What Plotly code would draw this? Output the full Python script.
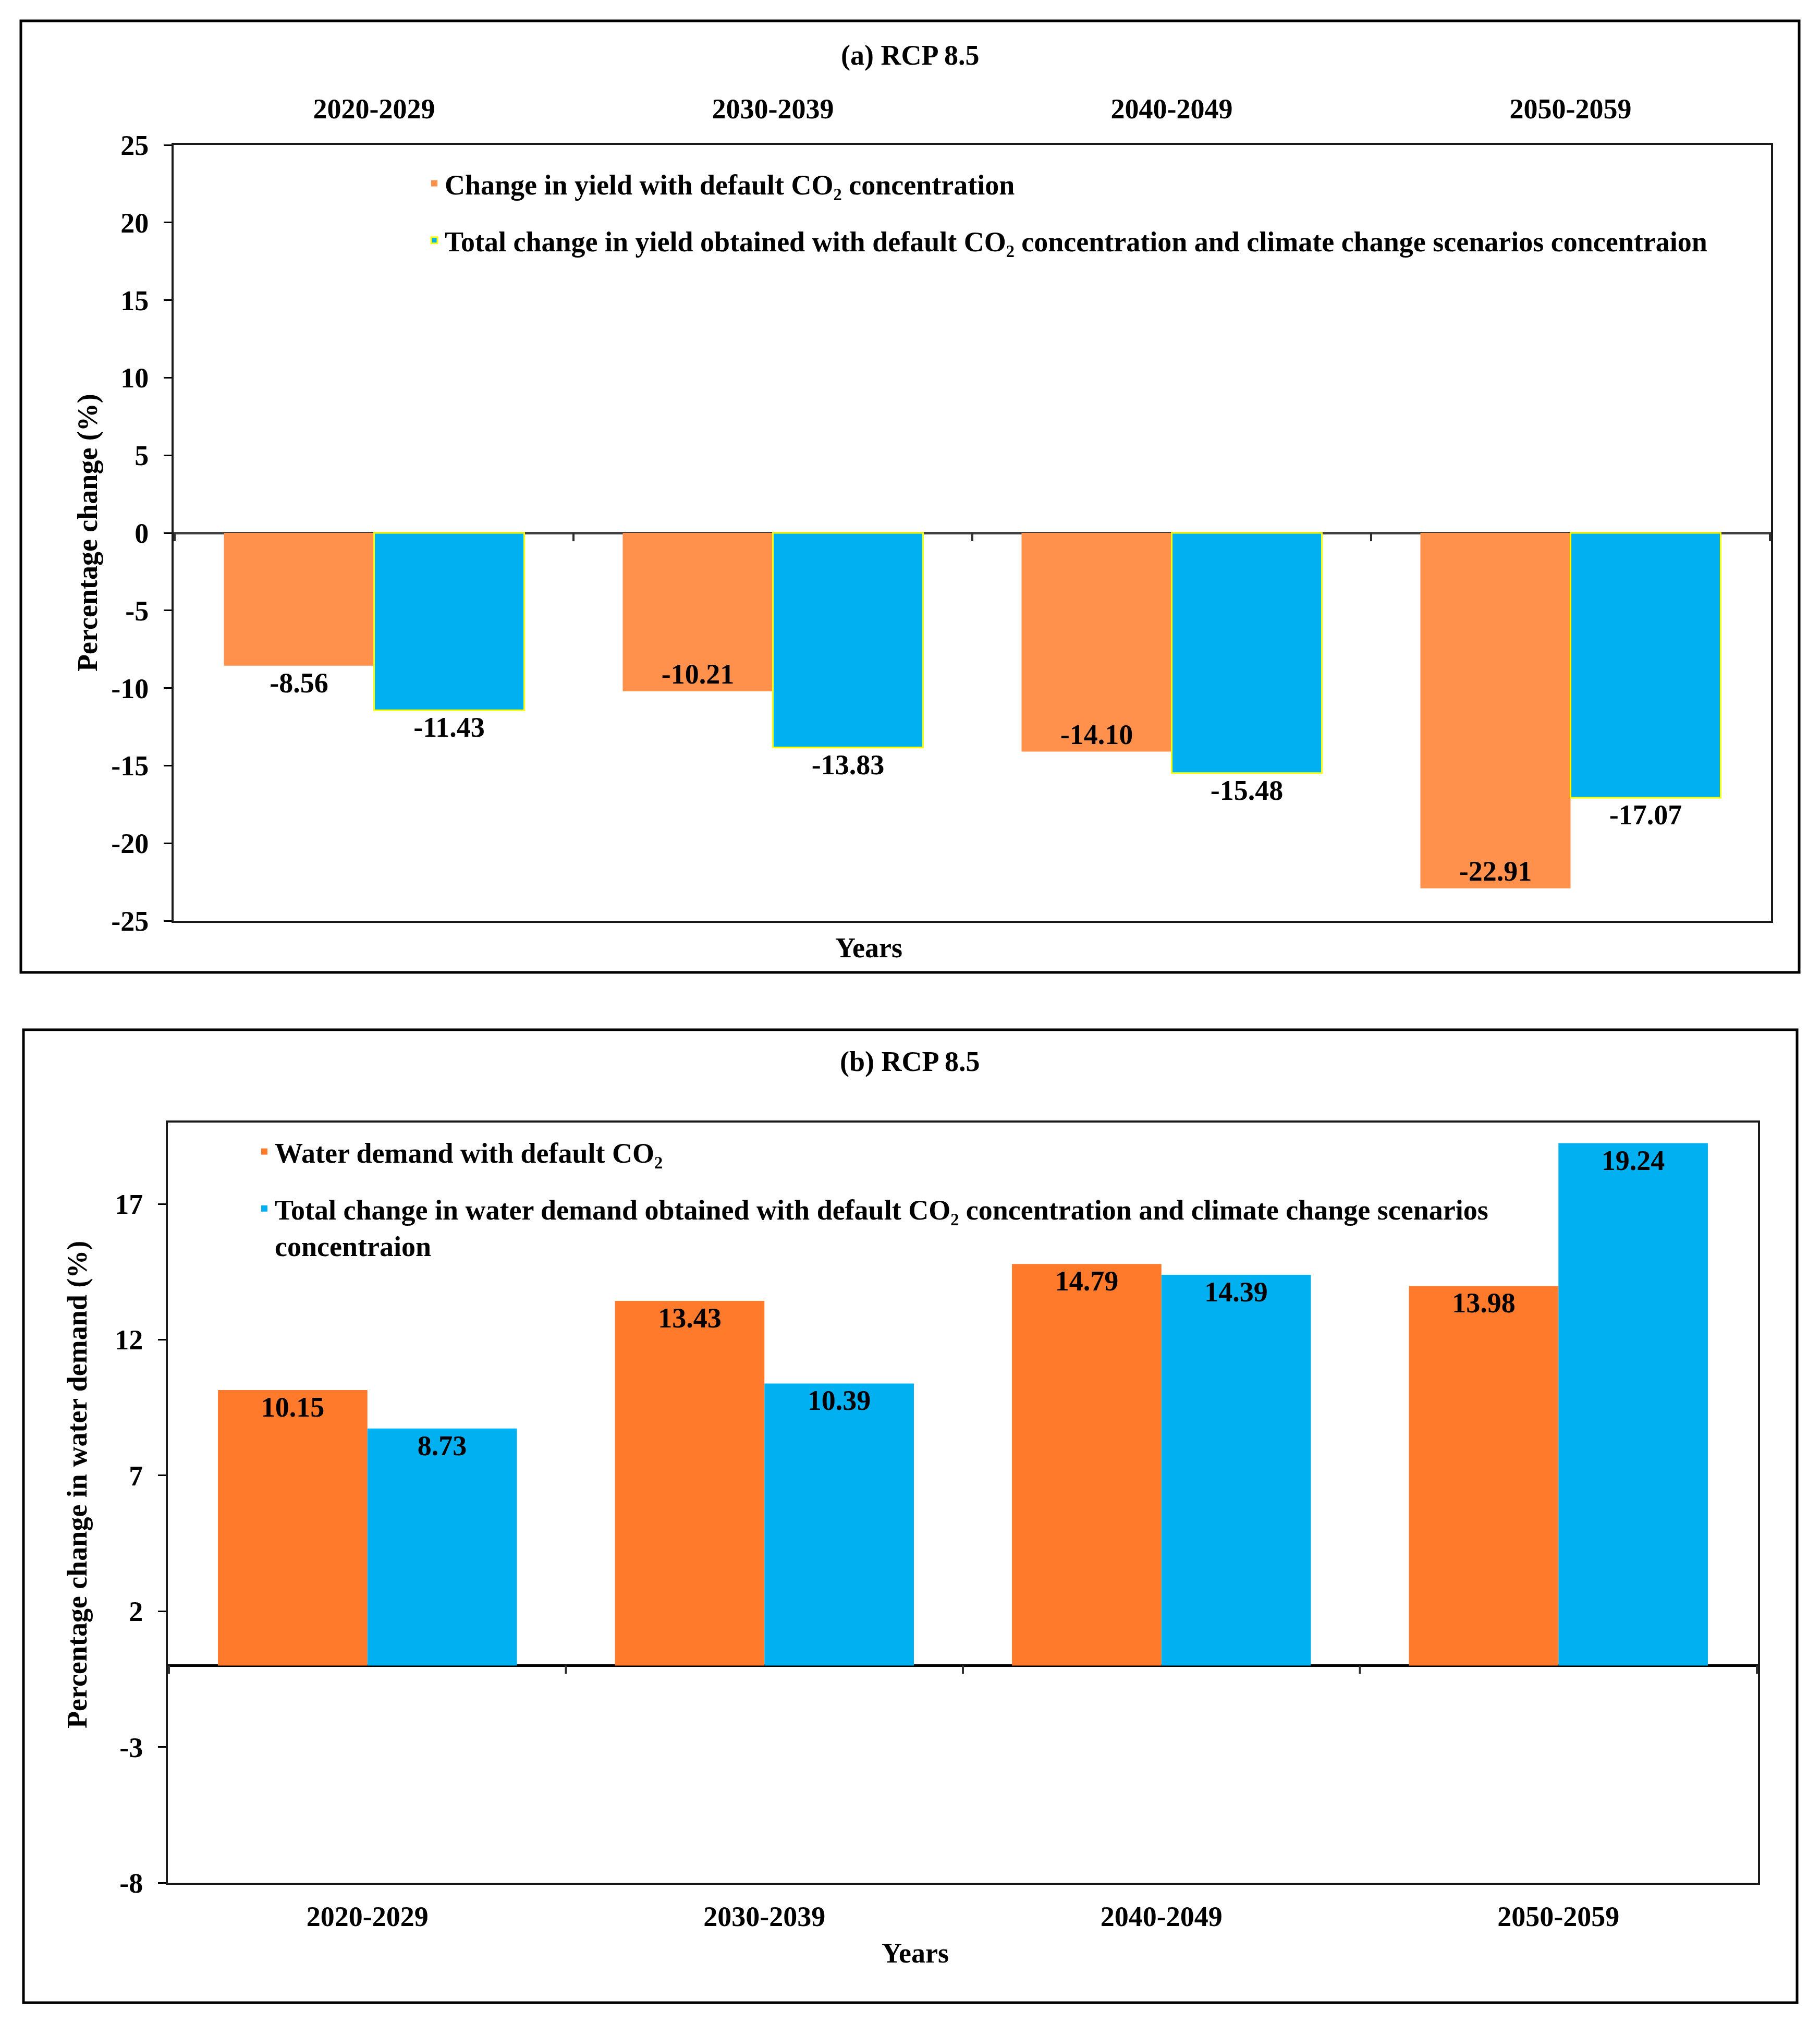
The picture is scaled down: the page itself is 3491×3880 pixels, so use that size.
import plotly.graph_objects as go

# decades shown on both panels
categories = ["2020-2029", "2030-2039", "2040-2049", "2050-2059"]

# (a) yield change, %
yield_default_co2 = [-8.56, -10.21, -14.10, -22.91]
yield_total = [-11.43, -13.83, -15.48, -17.07]

# (b) water demand change, %
water_default_co2 = [10.15, 13.43, 14.79, 13.98]
water_total = [8.73, 10.39, 14.39, 19.24]

ticks_a = [-25, -20, -15, -10, -5, 0, 5, 10, 15, 20, 25]
ticks_b = [-8, -3, 2, 7, 12, 17]

FONT = "Liberation Serif"
ORANGE_A = "#FF914D"
ORANGE_B = "#FF7A2A"
BLUE = "#00B0F0"
W, H = 3491, 3880

fig = go.Figure()

# ---- panel (a)
fig.add_trace(go.Bar(
    x=categories, y=yield_default_co2,
    name="Change in yield with default CO\u2082 concentration",
    marker=dict(color=ORANGE_A, line=dict(width=0)),
    texttemplate="%{y:.2f}",
    textposition=["outside", "inside", "inside", "inside"],
    insidetextanchor="end", textangle=0, constraintext="none",
    textfont=dict(color="black", size=54, family=FONT),
    cliponaxis=False, legend="legend", legendgroup="a1",
    xaxis="x", yaxis="y",
))
fig.add_trace(go.Bar(
    x=categories, y=yield_total,
    name="Total change in yield obtained with default CO\u2082 concentration and climate change scenarios concentraion",
    marker=dict(color=BLUE, line=dict(color="#FFFF00", width=3)),
    texttemplate="%{y:.2f}", textposition="outside", textangle=0,
    constraintext="none",
    textfont=dict(color="black", size=54, family=FONT),
    cliponaxis=False, legend="legend", legendgroup="a2",
    xaxis="x", yaxis="y",
))

# ---- panel (b)
fig.add_trace(go.Bar(
    x=categories, y=water_default_co2,
    name="Water demand with default CO\u2082",
    marker=dict(color=ORANGE_B, line=dict(width=0)),
    texttemplate="%{y:.2f}", textposition="inside", insidetextanchor="end",
    textangle=0, constraintext="none",
    textfont=dict(color="black", size=54, family=FONT),
    legend="legend2", legendgroup="b1",
    xaxis="x2", yaxis="y2",
))
fig.add_trace(go.Bar(
    x=categories, y=water_total,
    name="Total change in water demand obtained with default CO\u2082 concentration and climate change scenarios<br>concentraion",
    marker=dict(color=BLUE, line=dict(width=0)),
    texttemplate="%{y:.2f}", textposition="inside", insidetextanchor="end",
    textangle=0, constraintext="none",
    textfont=dict(color="black", size=54, family=FONT),
    legend="legend2", legendgroup="b2",
    xaxis="x2", yaxis="y2",
))

def px_x(v):
    return v / W

def px_y(v):
    return 1 - v / H

axis_common = dict(showline=True, mirror=True, linecolor="#1a1a1a", linewidth=4,
                   showgrid=False, tickfont=dict(size=54), automargin=False)

fig.update_layout(
    width=W, height=H,
    margin=dict(l=0, r=0, t=0, b=0, pad=0, autoexpand=False),
    paper_bgcolor="white", plot_bgcolor="white",
    font=dict(family=FONT, size=54, color="black", weight="bold"),
    barmode="group", bargap=0.247,
    xaxis=dict(domain=[px_x(333), px_x(3397)], anchor="y", side="top",
               type="category", ticks="", ticklabelstandoff=25, **axis_common),
    yaxis=dict(domain=[px_y(1766), px_y(278)], anchor="x", range=[-25, 25],
               tickvals=ticks_a, ticktext=[str(v) for v in ticks_a],
               ticks="outside", ticklen=15, tickwidth=3,
               tickcolor="black", ticklabelstandoff=18,
               zeroline=True, zerolinecolor="#404040", zerolinewidth=5,
               **axis_common),
    xaxis2=dict(domain=[px_x(322), px_x(3372)], anchor="y2", side="bottom",
                type="category", ticks="", ticklabelstandoff=14, **axis_common),
    yaxis2=dict(domain=[px_y(3611), px_y(2153)], anchor="x2", range=[-8, 20],
                tickvals=ticks_b, ticktext=[str(v) for v in ticks_b],
                ticks="outside", ticklen=15, tickwidth=3,
                tickcolor="black", ticklabelstandoff=18,
                zeroline=True, zerolinecolor="black", zerolinewidth=5,
                **axis_common),
    legend=dict(x=px_x(813), y=px_y(310), xanchor="left", yanchor="top",
                bgcolor="rgba(0,0,0,0)", font=dict(size=54),
                tracegroupgap=36, valign="top"),
    legend2=dict(x=px_x(487), y=px_y(2167), xanchor="left", yanchor="top",
                 bgcolor="rgba(0,0,0,0)", font=dict(size=54),
                 tracegroupgap=36, valign="top"),
)

# panel frames
fig.add_shape(type="rect", xref="paper", yref="paper",
              x0=px_x(40), x1=px_x(3451), y0=px_y(1865), y1=px_y(40),
              line=dict(color="black", width=5), layer="below")
fig.add_shape(type="rect", xref="paper", yref="paper",
              x0=px_x(45), x1=px_x(3447), y0=px_y(3841), y1=px_y(1975),
              line=dict(color="black", width=5), layer="below")

# small ticks on the zero line at category boundaries
for xr, yr in (("x", "y"), ("x2", "y2")):
    for i in range(len(categories) + 1):
        fig.add_shape(type="line", xref=xr, yref=yr, ysizemode="pixel",
                      yanchor=0, x0=i - 0.5, x1=i - 0.5, y0=0, y1=-16,
                      line=dict(color="#303030", width=4))

# titles and axis captions
def label(text, x, y, angle=0):
    fig.add_annotation(text=text, xref="paper", yref="paper",
                       x=px_x(x), y=px_y(y), xanchor="center", yanchor="middle",
                       textangle=angle, showarrow=False, font=dict(size=54))

label("(a) RCP 8.5", 1745, 106)
label("(b) RCP 8.5", 1745, 2036)
label("Years", 1666, 1818)
label("Years", 1755, 3746)
label("Percentage change (%)", 168, 1022, -90)
label("Percentage change in water demand (%)", 148, 2848, -90)

fig.write_html("out.html", config={"displayModeBar": False},
               post_script="document.body.style.margin='0';")
